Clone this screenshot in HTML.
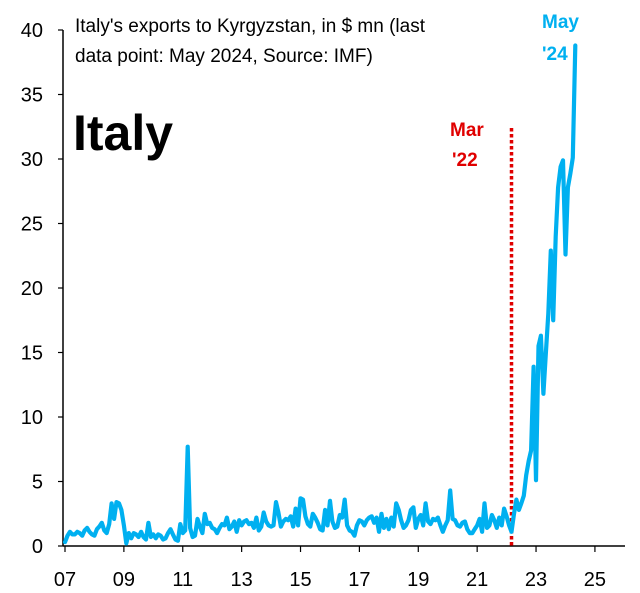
<!DOCTYPE html>
<html><head><meta charset="utf-8"><style>
html,body{margin:0;padding:0;background:#fff;}
svg{display:block;font-family:"Liberation Sans",sans-serif;}
</style></head><body>
<svg id="chart" width="640" height="593" viewBox="0 0 640 593">
<g id="axes"></g>
<g id="series"></g>
<text x="75" y="32" font-size="19" fill="#000">Italy's exports to Kyrgyzstan, in $ mn (last</text>
<text x="75" y="62" font-size="19" fill="#000">data point: May 2024, Source: IMF)</text>
<text x="73" y="150" font-size="50" font-weight="bold" fill="#000">Italy</text>
<text x="542" y="28" font-size="19" font-weight="bold" fill="#00b0f0">May</text>
<text x="542" y="60" font-size="19" font-weight="bold" fill="#00b0f0">'24</text>
<text x="450" y="136" font-size="19" font-weight="bold" fill="#e00000">Mar</text>
<text x="452" y="166" font-size="19" font-weight="bold" fill="#e00000">'22</text>
</svg>
<script>
const yTicks=[0,5,10,15,20,25,30,35,40];
const xTickYears=[2007,2009,2011,2013,2015,2017,2019,2021,2023,2025];
const xTickLabels=["07","09","11","13","15","17","19","21","23","25"];
const startYear=2007;
const eventDate=2022+2/12;
const exports2007=[0.3,0.8,1.1,0.9,0.9,1.1,1.0,0.8,1.2,1.4,1.1,0.9];
const exports2008=[0.8,1.3,1.5,1.8,1.2,1.0,1.7,3.3,2.1,3.4,3.3,2.8];
const exports2009=[1.6,0.2,1.0,0.6,1.0,0.9,0.7,1.1,0.7,0.5,1.8,0.7];
const exports2010=[0.9,0.6,0.9,0.8,0.5,0.6,1.0,1.3,0.9,0.5,0.4,1.7];
const exports2011=[1.0,1.2,7.7,1.4,0.7,0.8,2.1,1.5,1.0,2.5,1.7,1.8];
const exports2012=[1.4,1.3,1.0,1.4,1.7,1.6,2.2,1.3,1.5,1.9,1.1,2.0];
const exports2013=[1.6,1.9,2.0,1.7,1.8,1.4,2.2,1.2,1.5,2.6,1.9,1.6];
const exports2014=[1.5,1.6,3.4,2.6,1.5,1.9,2.1,2.0,2.3,1.5,2.9,1.6];
const exports2015=[3.7,3.6,2.3,1.7,1.5,2.5,2.2,1.8,1.3,1.2,2.8,1.6];
const exports2016=[3.5,1.9,1.4,1.5,2.4,2.2,3.6,1.6,1.2,1.1,0.8,1.6];
const exports2017=[2.0,1.9,1.6,2.0,2.2,2.3,1.8,2.2,1.1,2.5,1.4,2.1];
const exports2018=[1.3,2.2,1.5,3.3,2.8,2.0,1.4,1.6,2.0,2.8,3.0,1.4];
const exports2019=[2.1,2.4,1.6,3.3,1.9,1.7,2.1,2.0,2.2,1.6,1.1,1.6];
const exports2020=[2.0,4.3,2.1,2.0,1.6,1.5,1.8,1.9,1.3,1.0,1.0,1.3];
const exports2021=[1.6,2.1,1.1,3.3,1.4,1.6,2.4,2.0,1.4,2.2,1.6,2.9];
const exports2022=[2.3,1.6,1.1,2.5,3.6,2.8,3.3,3.9,5.5,6.6,7.4,13.9];
const exports2023=[5.1,15.5,16.3,11.8,15.0,18.0,22.9,17.5,24.0,27.8,29.4,29.9];
const exports2024=[22.6,27.8,28.9,30.1,38.8];

const values=[].concat(exports2007,exports2008,exports2009,exports2010,exports2011,exports2012,exports2013,exports2014,exports2015,exports2016,exports2017,exports2018,exports2019,exports2020,exports2021,exports2022,exports2023,exports2024);
const NS="http://www.w3.org/2000/svg";
const X0=65,PXY=29.44,Y0=546,PXV=12.9;
function xScale(t){return X0+(t-startYear)*PXY;}
function yScale(v){return Y0-v*PXV;}
const axes=document.getElementById('axes');
function mk(tag,attrs,parent){const e=document.createElementNS(NS,tag);for(const k in attrs)e.setAttribute(k,attrs[k]);parent.appendChild(e);return e;}
const yl=mk('line',{x1:63,y1:yScale(40),x2:63,y2:Y0,stroke:'#000','stroke-width':1.5},axes);


const xl=mk('line',{x1:63,y1:Y0,x2:625,y2:Y0,stroke:'#000','stroke-width':1.5},axes);


yTicks.forEach(v=>{
  const t=mk('line',{x1:58,y1:yScale(v),x2:63,y2:yScale(v),stroke:'#000','stroke-width':1.2},axes);
  
  
  const l=mk('text',{x:43,y:yScale(v)+7,'font-size':20,'text-anchor':'end',fill:'#000'},axes);
  l.textContent=String(v);
  
  
});
xTickYears.forEach((yr,i)=>{
  const x=xScale(yr);
  const t=mk('line',{x1:x,y1:Y0,x2:x,y2:Y0+6,stroke:'#000','stroke-width':1.2},axes);
  
  
  const l=mk('text',{x:x,y:586,'font-size':20,'text-anchor':'middle',fill:'#000'},axes);
  l.textContent=xTickLabels[i];
  
  
});
const series=document.getElementById('series');
const ev=mk('line',{x1:xScale(eventDate),y1:128,x2:xScale(eventDate),y2:Y0,stroke:'#e00000','stroke-width':3.5,'stroke-dasharray':'3.5 2.5'},series);


const pts=values.map((v,i)=>xScale(startYear+i/12).toFixed(1)+','+yScale(v).toFixed(1)).join(' ');
const pl=mk('polyline',{points:pts,fill:'none',stroke:'#00b0f0','stroke-width':4.2,'stroke-linejoin':'round','stroke-linecap':'round'},series);


</script>
</body></html>
